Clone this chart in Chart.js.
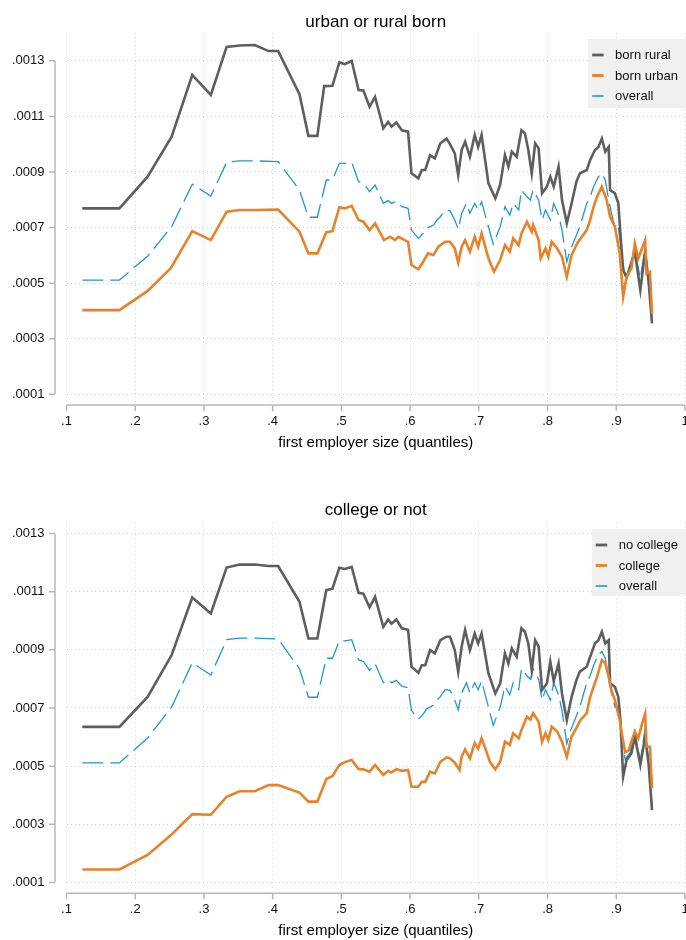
<!DOCTYPE html>
<html>
<head>
<meta charset="utf-8">
<script src="https://cdn.jsdelivr.net/npm/chart.js@4.4.1/dist/chart.umd.min.js"></script>
<style>
body { margin: 0; background: #fff; }
canvas { display: block; }
</style>
</head>
<body>
<canvas id="urban-rural" width="686" height="470"></canvas>
<canvas id="college" width="686" height="470"></canvas>
<script>
const x_ticks = [0.1, 0.2, 0.3, 0.4, 0.5, 0.6, 0.7, 0.8, 0.9, 1]
const y_ticks = [0.0001, 0.0003, 0.0005, 0.0007, 0.0009, 0.0011, 0.0013]

// [quantile, value] pairs
const born_rural = [
    [.123, .000769], [.177, .000769], [.218, .000883], [.253, .001027], [.283, .001249], [.310, .001177],
    [.333, .00135], [.352, .001355], [.374, .001357], [.394, .001335], [.408, .001335], [.439, .00118],
    [.452, .00103], [.465, .00103], [.475, .001209], [.487, .00121], [.497, .001294], [.505, .001288],
    [.515, .0013], [.525, .001195], [.532, .001193], [.541, .001135], [.549, .00117], [.561, .001057],
    [.568, .00108], [.573, .001063], [.580, .001078], [.588, .00105], [.597, .001045], [.602, .000895],
    [.612, .000877], [.617, .000907], [.622, .000907], [.629, .00096], [.636, .000949], [.644, .001003],
    [.653, .00102], [.658, .001], [.665, .000967], [.670, .000889], [.675, .000979], [.680, .001009],
    [.687, .000955], [.694, .001033], [.699, .00099], [.704, .001033], [.714, .000859], [.724, .000805],
    [.731, .000853], [.738, .000961], [.743, .000919], [.748, .000973], [.755, .000955], [.762, .00105],
    [.767, .001039], [.772, .000979], [.777, .000895], [.782, .001003], [.787, .000985], [.792, .000823],
    [.799, .000847], [.804, .000883], [.809, .000847], [.816, .000919], [.821, .000799], [.828, .000715],
    [.835, .000787], [.842, .000865], [.847, .000895], [.857, .000907], [.862, .000943], [.869, .000979],
    [.874, .00099], [.879, .00102], [.884, .000973], [.889, .00099], [.891, .000835], [.898, .000823],
    [.903, .000787], [.906, .000679], [.910, .000547], [.915, .00052], [.920, .000559], [.927, .000613],
    [.935, .000475], [.942, .000613], [.947, .000505], [.952, .000355]
]

const born_urban = [
    [.123, .000403], [.177, .000403], [.218, .000472], [.252, .000555], [.283, .000687], [.310, .000655],
    [.333, .000757], [.352, .000763], [.374, .000763], [.408, .000765], [.439, .000685], [.452, .000607],
    [.465, .000607], [.478, .000683], [.487, .000687], [.497, .000773], [.505, .000769], [.515, .000778],
    [.525, .000727], [.532, .000721], [.541, .000691], [.549, .000715], [.562, .000655], [.571, .000667],
    [.578, .000655], [.583, .000667], [.597, .000649], [.602, .000565], [.612, .00055], [.619, .000577],
    [.626, .000607], [.634, .000601], [.641, .000631], [.651, .000649], [.658, .000649], [.665, .000625],
    [.670, .000573], [.675, .000631], [.680, .000655], [.687, .000613], [.694, .000667], [.699, .000631],
    [.704, .000679], [.714, .000589], [.722, .000541], [.731, .000583], [.738, .000637], [.745, .000613],
    [.750, .000661], [.758, .000637], [.762, .000679], [.770, .000721], [.777, .000685], [.779, .000709],
    [.787, .000655], [.790, .000589], [.797, .000625], [.801, .000595], [.806, .000649], [.814, .000625],
    [.821, .000595], [.828, .000523], [.835, .000601], [.843, .000643], [.848, .000661], [.857, .000691],
    [.862, .000727], [.867, .000775], [.872, .000811], [.879, .000847], [.886, .000799], [.891, .000739],
    [.898, .000703], [.905, .000607], [.910, .000451], [.915, .000523], [.922, .000553], [.927, .000643],
    [.932, .000589], [.942, .000655], [.944, .000535], [.949, .000541], [.952, .000391]
]

const overall = [
    [.123, .000511], [.177, .000511], [.218, .000597], [.253, .000703], [.283, .000856], [.310, .000813],
    [.333, .000935], [.352, .00094], [.374, .00094], [.408, .000937], [.439, .000835], [.452, .000737],
    [.465, .000737], [.478, .000871], [.487, .000871], [.497, .000931], [.505, .000931], [.515, .000935],
    [.525, .000865], [.532, .00086], [.541, .000829], [.549, .000853], [.561, .000787], [.568, .000797],
    [.573, .000787], [.580, .000795], [.588, .000775], [.597, .000769], [.602, .000691], [.612, .000661],
    [.619, .000679], [.624, .000697], [.634, .000709], [.639, .000727], [.644, .000739], [.651, .000763],
    [.658, .000761], [.665, .000727], [.670, .000694], [.675, .000751], [.682, .000787], [.687, .000751],
    [.694, .000787], [.699, .000763], [.704, .000793], [.714, .000703], [.721, .00064], [.731, .000703],
    [.738, .000775], [.745, .000745], [.750, .000787], [.758, .000763], [.762, .000835], [.770, .000811],
    [.775, .000799], [.779, .000835], [.787, .000799], [.792, .000727], [.797, .000763], [.804, .000727],
    [.809, .000787], [.816, .000745], [.821, .000691], [.828, .000577], [.833, .000619], [.840, .000661],
    [.847, .000703], [.857, .000787], [.862, .000811], [.867, .000847], [.874, .000883], [.879, .000895],
    [.884, .000871], [.889, .000799], [.893, .000751], [.898, .000703], [.903, .000703], [.908, .000595],
    [.913, .000523], [.920, .000547], [.927, .00062], [.935, .000517], [.942, .000631], [.947, .000517],
    [.952, .000367]
]

const no_college = [
    [.123, .000635], [.177, .000635], [.218, .000738], [.253, .000882], [.283, .00108], [.310, .001025],
    [.333, .001183], [.352, .001193], [.374, .001193], [.394, .001188], [.408, .001188], [.439, .001065],
    [.452, .000939], [.465, .000939], [.478, .001105], [.487, .00111], [.497, .001182], [.505, .001178],
    [.515, .001185], [.525, .001096], [.532, .001093], [.541, .001046], [.549, .001082], [.561, .000979],
    [.568, .001004], [.573, .00099], [.580, .001004], [.588, .000974], [.597, .000969], [.602, .000842],
    [.612, .000821], [.617, .000847], [.622, .000847], [.629, .000899], [.636, .000888], [.644, .000933],
    [.653, .000945], [.658, .000945], [.665, .000899], [.670, .000824], [.675, .000911], [.680, .000968],
    [.687, .000899], [.694, .000956], [.699, .000922], [.704, .000956], [.714, .000819], [.724, .00075],
    [.731, .000784], [.738, .000888], [.743, .000853], [.748, .000905], [.755, .000876], [.762, .000974],
    [.767, .000962], [.772, .000922], [.777, .00083], [.782, .000933], [.787, .000911], [.792, .000762],
    [.799, .000784], [.804, .000859], [.809, .000792], [.816, .000853], [.821, .00075], [.828, .000658],
    [.835, .000738], [.842, .000796], [.847, .000825], [.857, .000842], [.862, .000876], [.869, .000922],
    [.874, .000933], [.879, .000962], [.884, .000922], [.889, .000933], [.891, .000784], [.898, .000773],
    [.903, .000738], [.906, .000658], [.910, .000464], [.915, .000521], [.922, .000544], [.927, .000602],
    [.935, .000504], [.942, .000602], [.947, .00051], [.952, .000349]
]

const college = [
    [.123, .000145], [.177, .000145], [.218, .000195], [.252, .000263], [.283, .000335], [.310, .000333],
    [.333, .000395], [.352, .000414], [.374, .000414], [.394, .000435], [.408, .000435], [.439, .000409],
    [.452, .000378], [.465, .000378], [.478, .000456], [.487, .000466], [.497, .000504], [.505, .000514],
    [.515, .000521], [.525, .00049], [.532, .000489], [.541, .000481], [.549, .000504], [.561, .00047],
    [.568, .000484], [.573, .000478], [.580, .00049], [.588, .000484], [.597, .000487], [.602, .000429],
    [.612, .000429], [.617, .000446], [.622, .000446], [.629, .000481], [.636, .000475], [.644, .000515],
    [.653, .00053], [.658, .000527], [.665, .000512], [.672, .000487], [.675, .000533], [.680, .000558],
    [.687, .000527], [.694, .00058], [.699, .00056], [.704, .000596], [.711, .000551], [.716, .000515],
    [.724, .000489], [.731, .000515], [.738, .000584], [.745, .000573], [.750, .000613], [.758, .000596],
    [.762, .000624], [.770, .00067], [.775, .00066], [.779, .000682], [.787, .000653], [.792, .000584],
    [.797, .000613], [.801, .00059], [.806, .000636], [.814, .000619], [.821, .000584], [.828, .000532],
    [.835, .000602], [.843, .000636], [.848, .000659], [.857, .000682], [.860, .000717], [.862, .000738],
    [.867, .000773], [.872, .000807], [.879, .000865], [.884, .000854], [.889, .000807], [.893, .00076],
    [.898, .000727], [.905, .000658], [.908, .000613], [.913, .000548], [.918, .000554], [.922, .000584],
    [.927, .000619], [.932, .000596], [.937, .000642], [.942, .00068], [.944, .000567], [.949, .000567],
    [.952, .000424]
]

const font_family = "'Liberation Sans', Arial, Helvetica, sans-serif"
const gray = '#5e5e5e'
const orange = '#e8822a'
const blue = '#2196cf'
const axis_color = '#b8b8b8'
const grid_color = '#d2d2d2'

Chart.defaults.font.family = font_family
Chart.defaults.color = '#111'

// stata style axes: lines drawn a few pixels away from the plot region
const axes_plugin = {
    id: 'stataAxes',
    afterDraw: (chart) => {
        const { ctx, chartArea } = chart
        const x = chart.scales.x, y = chart.scales.y
        const ax = chartArea.left - 11.5
        const ay = chartArea.bottom + 3.3
        ctx.save()
        ctx.strokeStyle = axis_color
        ctx.lineWidth = 1.5
        ctx.beginPath()
        ctx.moveTo(ax, y.getPixelForValue(y_ticks[0]))
        ctx.lineTo(ax, y.getPixelForValue(y_ticks[y_ticks.length - 1]))
        y_ticks.forEach(v => {
            ctx.moveTo(ax - 6, y.getPixelForValue(v))
            ctx.lineTo(ax, y.getPixelForValue(v))
        })
        ctx.moveTo(x.getPixelForValue(x_ticks[0]), ay)
        ctx.lineTo(x.getPixelForValue(x_ticks[x_ticks.length - 1]), ay)
        x_ticks.forEach(v => {
            ctx.moveTo(x.getPixelForValue(v), ay)
            ctx.lineTo(x.getPixelForValue(v), ay + 6)
        })
        ctx.stroke()
        ctx.restore()
    }
}

const legend_plugin = {
    id: 'stataLegend',
    afterDraw: (chart, args, options) => {
        const { ctx } = chart
        ctx.save()
        ctx.font = '13px ' + font_family
        const datasets = chart.data.datasets
        const w = Math.max(...datasets.map(d => ctx.measureText(d.label).width)) + 35
        const left = chart.width - w
        ctx.fillStyle = '#f0f0f0'
        ctx.fillRect(left, options.top, w, options.height)
        datasets.forEach((d, i) => {
            const ly = options.top + 16 + i * 20.5
            ctx.strokeStyle = d.borderColor
            ctx.lineWidth = d.borderDash ? 1.6 : 2.8
            ctx.beginPath()
            ctx.moveTo(left + 4, ly)
            ctx.lineTo(left + 15.5, ly)
            ctx.stroke()
            ctx.fillStyle = '#111'
            ctx.textBaseline = 'middle'
            ctx.fillText(d.label, left + 27, ly + 0.5)
        })
        ctx.restore()
    }
}

function to_points(list) {
    return list.map(([x, y]) => ({ x, y }))
}

function fmt_x(v) {
    return v === 1 ? '1' : '.' + Math.round(v * 10)
}

function fmt_y(v) {
    return v.toFixed(4).replace(/^0/, '')
}

function make_chart(canvas, title, series, opts) {
    const datasets = [
        { label: series[0].label, data: to_points(series[0].data), borderColor: gray, borderWidth: 2.6, order: 1 },
        { label: series[1].label, data: to_points(series[1].data), borderColor: orange, borderWidth: 2.6, order: 0 },
        { label: 'overall', data: to_points(overall), borderColor: blue, borderWidth: 1.3, borderDash: [21, 7], order: 2 },
    ]
    new Chart(canvas, {
        type: 'line',
        data: { datasets },
        options: {
            responsive: false,
            animation: false,
            devicePixelRatio: 1,
            parsing: false,
            elements: {
                point: { radius: 0 },
                line: { tension: 0, fill: false, borderCapStyle: 'butt' }
            },
            layout: { padding: { top: 0, right: 1, bottom: opts.bottom_pad, left: 0 } },
            plugins: {
                legend: { display: false },
                tooltip: { enabled: false },
                title: {
                    display: true,
                    text: title,
                    fullSize: false,
                    color: '#000',
                    font: { size: 17, weight: 'normal' },
                    padding: opts.title_pad
                },
                stataLegend: { top: opts.legend_top, height: opts.legend_height }
            },
            scales: {
                x: {
                    type: 'linear',
                    min: 0.1,
                    max: 1,
                    afterBuildTicks: s => { s.ticks = x_ticks.map(v => ({ value: v })) },
                    afterFit: s => { s.height = 50; s.paddingLeft = 0; s.paddingRight = 0 },
                    grid: { color: grid_color, drawTicks: false },
                    border: { display: false, dash: [1, 3] },
                    ticks: { padding: 12, autoSkip: false, maxRotation: 0, font: { size: 13 }, callback: v => fmt_x(v) },
                    title: { display: true, text: 'first employer size (quantiles)', font: { size: 15 }, padding: 0, color: '#000' }
                },
                y: {
                    type: 'linear',
                    min: opts.y_min,
                    max: opts.y_max,
                    afterBuildTicks: s => { s.ticks = y_ticks.map(v => ({ value: v })) },
                    afterFit: s => { s.width = 66.5; s.paddingTop = 0; s.paddingBottom = 0 },
                    grid: { color: grid_color, drawTicks: false },
                    border: { display: false, dash: [1, 3] },
                    ticks: { padding: 22, font: { size: 13 }, callback: v => fmt_y(v) }
                }
            }
        },
        plugins: [axes_plugin, legend_plugin]
    })
}

make_chart(document.getElementById('urban-rural'), 'urban or rural born', [
    { label: 'born rural', data: born_rural },
    { label: 'born urban', data: born_urban }
], { bottom_pad: 18.3, title_pad: { top: 12, bottom: 0.6 }, y_min: 0.0000734, y_max: 0.0014, legend_top: 39, legend_height: 69 })

make_chart(document.getElementById('college'), 'college or not', [
    { label: 'no college', data: no_college },
    { label: 'college', data: college }
], { bottom_pad: 0, title_pad: { top: 30, bottom: 2 }, y_min: 0.0000743, y_max: 0.001338, legend_top: 59, legend_height: 67 })
</script>
</body>
</html>
